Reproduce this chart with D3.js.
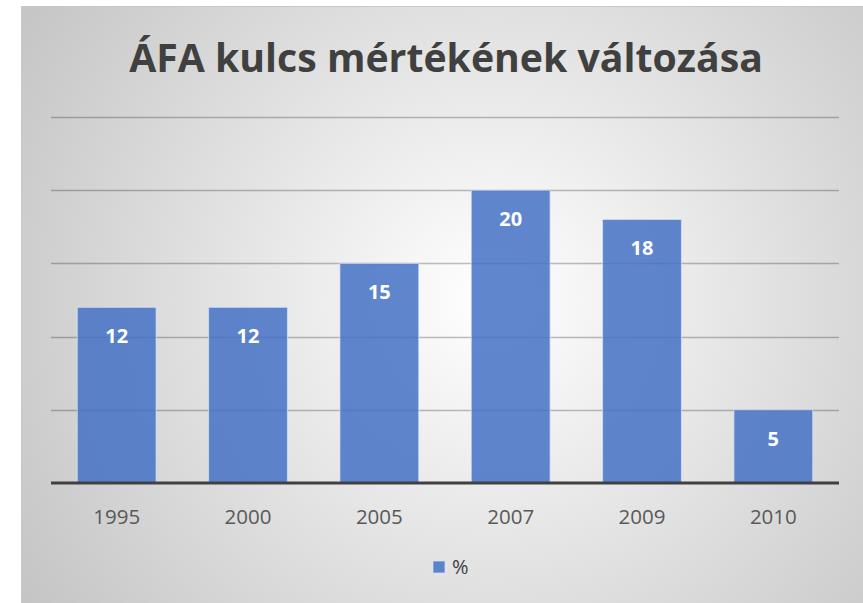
<!DOCTYPE html>
<html>
<head>
<meta charset="utf-8">
<script src="https://cdn.jsdelivr.net/npm/d3@7"></script>
<style>
  body { margin: 0; background: #fff; }
  svg { display: block; }
</style>
</head>
<body>
<svg id="chart" width="863" height="603"></svg>
<script>
// data
const years = ['1995', '2000', '2005', '2007', '2009', '2010'];
const rates = [12, 12, 15, 20, 18, 5];
const yTicks = [0, 5, 10, 15, 20, 25];
const seriesName = '%';
const title = 'ÁFA kulcs mértékének változása';

const W = 863, H = 603;
const svg = d3.select('#chart');

// radial background like the office chart style
const defs = svg.append('defs');
const grad = defs.append('radialGradient')
    .attr('id', 'bg')
    .attr('gradientUnits', 'userSpaceOnUse')
    .attr('cx', 490).attr('cy', 300).attr('r', 560);
grad.append('stop').attr('offset', '0%').attr('stop-color', '#ffffff');
grad.append('stop').attr('offset', '100%').attr('stop-color', '#c4c4c4');

svg.append('rect')
    .attr('x', 21).attr('y', 6)
    .attr('width', W - 21).attr('height', H - 6)
    .attr('fill', 'url(#bg)');
// border top + left
svg.append('path')
    .attr('d', `M21.5,${H} V6.5 H${W}`)
    .attr('fill', 'none')
    .attr('stroke', '#c8c8c8')
    .attr('stroke-width', 1);

// title
const t = svg.append('text')
    .attr('x', 446).attr('y', 72)
    .attr('text-anchor', 'middle')
    .attr('font-family', 'Open Sans, sans-serif')
    .attr('font-weight', 700)
    .attr('font-size', 36)
    .attr('fill', '#404040')
    .text(title);
// fit to width seen in the reference
const tw = t.node().getComputedTextLength();
t.attr('font-size', 36 * 634 / tw);

const x = d3.scaleBand()
    .domain(years)
    .range([51, 839])
    .paddingInner(0.4)
    .paddingOuter(0.2);

const y = d3.scaleLinear()
    .domain([0, 25])
    .range([483, 117]);

// gridlines
svg.append('g')
    .selectAll('line')
    .data(yTicks.slice(1))
    .enter().append('line')
    .attr('x1', 51).attr('x2', 839)
    .attr('y1', d => Math.round(y(d)) + 0.5)
    .attr('y2', d => Math.round(y(d)) + 0.5)
    .attr('stroke', '#000')
    .attr('stroke-opacity', 0.25)
    .attr('stroke-width', 1.5);

// bars
const bars = svg.append('g')
    .selectAll('g')
    .data(years.map((yr, i) => ({ yr, v: rates[i] })))
    .enter().append('g');

bars.append('rect')
    .attr('x', d => x(d.yr))
    .attr('y', d => y(d.v))
    .attr('width', x.bandwidth())
    .attr('height', d => y(0) - y(d.v))
    .attr('fill', '#4472c4')
    .attr('fill-opacity', 0.85)
    .attr('stroke', '#dbe4f5')
    .attr('stroke-opacity', 0.7)
    .attr('stroke-width', 1);

bars.append('text')
    .attr('x', d => x(d.yr) + x.bandwidth() / 2)
    .attr('y', d => y(d.v) + 36)
    .attr('text-anchor', 'middle')
    .attr('font-family', 'Open Sans, sans-serif')
    .attr('font-weight', 700)
    .attr('font-size', 20)
    .attr('fill', '#fff')
    .text(d => d.v);

// x axis
const xAxis = svg.append('g')
    .attr('transform', `translate(0,${y(0)})`)
    .call(d3.axisBottom(x).tickSize(0).tickPadding(26));
xAxis.select('.domain')
    .attr('d', 'M51,0H839')
    .attr('stroke', '#404040')
    .attr('stroke-width', 3);
xAxis.selectAll('text')
    .attr('font-family', 'Open Sans, sans-serif')
    .attr('font-size', 20.5)
    .attr('fill', '#595959');

// legend
const lg = svg.append('g').attr('transform', 'translate(433,561)');
lg.append('rect')
    .attr('width', 12).attr('height', 12)
    .attr('fill', '#4472c4').attr('fill-opacity', 0.85)
    .attr('stroke', '#dbe4f5').attr('stroke-opacity', 0.7);
lg.append('text')
    .attr('x', 19).attr('y', 13)
    .attr('font-family', 'Open Sans, sans-serif')
    .attr('font-size', 20)
    .attr('fill', '#404040')
    .text(seriesName);
</script>
</body>
</html>
